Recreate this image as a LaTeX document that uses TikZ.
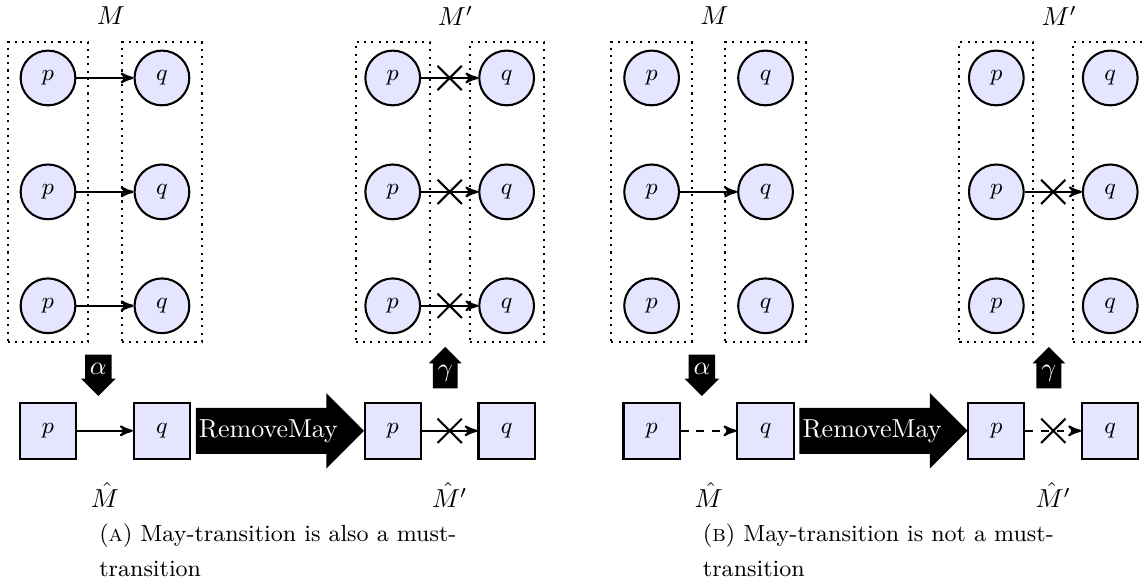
\documentclass[tikz,border=0pt]{standalone}
\usepackage{amsmath}
\usepackage{amssymb}
\usetikzlibrary{positioning,arrows,calc,fit,shapes.arrows,shapes.misc}

\begin{document}
\begin{tikzpicture}[>=stealth',thick,node distance=15.4mm,on grid]
  \tikzstyle{mstate}=[circle,draw=black,thick,fill=blue!10,minimum size=7.4mm,inner sep=0pt,font=\small]
  \tikzstyle{astate}=[rectangle,draw=black,thick,fill=blue!10,minimum size=7.6mm,inner sep=0pt,font=\small]
  \tikzstyle{stateset}=[draw,dotted,thick,inner xsep=1.6mm,inner ysep=1mm]
  \tikzstyle{statesetp}=[stateset,inner xsep=1.15mm]
  \tikzstyle{xmark}=[cross out,draw,solid,thick,minimum size=3mm,inner sep=0pt]
  \tikzstyle{absarrow}=[single arrow,fill=black,text=white,inner sep=1.5pt,minimum height=5.6mm,single arrow head extend=0.55mm]
  \tikzstyle{bigarrow}=[single arrow,fill=black,text=white,inner xsep=0.8pt,inner ysep=4pt,minimum height=22.6mm,single arrow head extend=2mm]
  \tikzstyle{subcap}=[align=left,inner sep=0pt,font=\fontsize{9}{13.5}\selectfont]

  \useasboundingbox (-6.49mm,10.54mm) rectangle (148.3mm,-68.13mm);

  % the two subfigures
  \foreach \s/\dx in {a/0mm,b/81.6mm} {
    \begin{scope}[xshift=\dx]
      % M
      \node[mstate] (\s-M-p1) at (0,0) {$p$};
      \node[mstate] (\s-M-p2) [below=of \s-M-p1] {$p$};
      \node[mstate] (\s-M-p3) [below=of \s-M-p2] {$p$};
      \node[mstate] (\s-M-q1) [right=of \s-M-p1] {$q$};
      \node[mstate] (\s-M-q2) [right=of \s-M-p2] {$q$};
      \node[mstate] (\s-M-q3) [right=of \s-M-p3] {$q$};
      \node[stateset,fit=(\s-M-p1)(\s-M-p3)] (\s-M-pset) {};
      \node[stateset,fit=(\s-M-q1)(\s-M-q3)] (\s-M-qset) {};
      \coordinate (\s-M-mid) at ($(\s-M-p1)!0.5!(\s-M-q1)$);
      \node (\s-M-lbl) [above=8.4mm of \s-M-mid,anchor=center,xshift=0.8mm] {$M$};

      % M'
      \node[mstate] (\s-N-p1) [right=46.6mm of \s-M-p1] {$p$};
      \node[mstate] (\s-N-p2) [below=of \s-N-p1] {$p$};
      \node[mstate] (\s-N-p3) [below=of \s-N-p2] {$p$};
      \node[mstate] (\s-N-q1) [right=of \s-N-p1] {$q$};
      \node[mstate] (\s-N-q2) [right=of \s-N-p2] {$q$};
      \node[mstate] (\s-N-q3) [right=of \s-N-p3] {$q$};
      \node[statesetp,fit=(\s-N-p1)(\s-N-p3)] (\s-N-pset) {};
      \node[statesetp,fit=(\s-N-q1)(\s-N-q3)] (\s-N-qset) {};
      \coordinate (\s-N-mid) at ($(\s-N-p1)!0.5!(\s-N-q1)$);
      \node (\s-N-lbl) [above=8.4mm of \s-N-mid,anchor=center,xshift=0.8mm] {$M'$};

      % abstractions
      \node[astate] (\s-H-p) [below=16.9mm of \s-M-p3] {$p$};
      \node[astate] (\s-H-q) [right=of \s-H-p] {$q$};
      \node[astate] (\s-HN-p) [below=16.9mm of \s-N-p3] {$p$};
      \node[astate] (\s-HN-q) [right=of \s-HN-p] {$q$};
      \coordinate (\s-H-mid) at ($(\s-H-p)!0.5!(\s-H-q)$);
      \coordinate (\s-HN-mid) at ($(\s-HN-p)!0.5!(\s-HN-q)$);
      \node (\s-H-lbl) [below=8.7mm of \s-H-mid,anchor=center] {$\hat{M}$};
      \node (\s-HN-lbl) [below=8.7mm of \s-HN-mid,anchor=center] {$\hat{M}'$};

      % alpha, gamma and RemoveMay
      \node[absarrow,shape border rotate=270] (\s-alpha) [above=8.4mm of \s-H-mid,anchor=center,xshift=-0.9mm] {$\alpha$};
      \node[absarrow,shape border rotate=90] (\s-gamma) [above=7.7mm of \s-HN-mid,anchor=center,xshift=-0.6mm] {$\gamma$};
      \coordinate (\s-R-mid) at ($(\s-H-q)!0.5!(\s-HN-p)$);
      \node[bigarrow] (\s-remove) [right=-1.2mm of \s-R-mid,anchor=center] {RemoveMay};
    \end{scope}
  }

  % Captions
  \node[subcap] (a-cap) [below right=12.5mm and 6.8mm of a-H-p,anchor=north west] {(\textsc{a}) May-transition is also a must-\\transition};
  \node[subcap] (b-cap) [below right=12.5mm and 6.8mm of b-H-p,anchor=north west] {(\textsc{b}) May-transition is not a must-\\transition};

  % Transitions
  \path[->]
    (a-M-p1) edge (a-M-q1)
    (a-M-p2) edge (a-M-q2)
    (a-M-p3) edge (a-M-q3)
    (a-N-p1) edge node[xmark] {} (a-N-q1)
    (a-N-p2) edge node[xmark] {} (a-N-q2)
    (a-N-p3) edge node[xmark] {} (a-N-q3)
    (a-H-p) edge (a-H-q)
    (a-HN-p) edge node[xmark] {} (a-HN-q)

    (b-M-p2) edge (b-M-q2)
    (b-N-p2) edge node[xmark] {} (b-N-q2)
    (b-H-p) edge[dashed] (b-H-q)
    (b-HN-p) edge[dashed] node[xmark] {} (b-HN-q);
\end{tikzpicture}
\end{document}
